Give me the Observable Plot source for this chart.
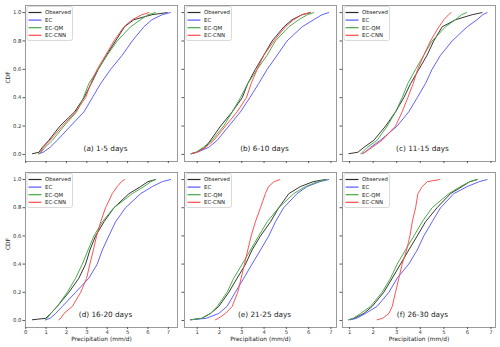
<!DOCTYPE html>
<html>
<head>
<meta charset="utf-8">
<script src="https://cdn.jsdelivr.net/npm/d3@7"></script>
<script src="https://cdn.jsdelivr.net/npm/@observablehq/plot@0.6"></script>
<style>
  html, body { margin: 0; padding: 0; background: white; }
  #chart { position: relative; width: 500px; height: 347px; background: white; font-family: "DejaVu Sans", sans-serif; }
  #chart > div { position: absolute; }
</style>
</head>
<body>
<div id="chart"></div>
<script>
const levels = [0.005, 0.015, 0.05, 0.1, 0.2, 0.3, 0.4, 0.5, 0.6, 0.7, 0.8, 0.9, 0.95, 0.985, 1.0];
const panelLabels = ["(a) 1-5 days", "(b) 6-10 days", "(c) 11-15 days", "(d) 16-20 days", "(e) 21-25 days", "(f) 26-30 days"];
const seriesNames = ["Observed", "EC", "EC-QM", "EC-CNN"];
const seriesColors = ["#2b2b2b", "#5858ff", "#45a845", "#ff4a4a"];

const observed = [
  [0.33, 0.65, 0.82, 1.14, 1.68, 2.40, 2.86, 3.22, 3.56, 3.97, 4.41, 4.85, 5.31, 6.2, 6.94],
  [0.73, 0.95, 1.37, 1.6, 2.05, 2.57, 3.02, 3.27, 3.61, 3.99, 4.36, 4.89, 5.26, 5.7, 6.08],
  [0.97, 1.35, 1.61, 2.03, 2.53, 2.95, 3.30, 3.59, 3.94, 4.29, 4.57, 4.93, 5.5, 6.2, 6.62],
  [0.33, 0.98, 1.23, 1.55, 2.12, 2.61, 2.94, 3.15, 3.43, 3.84, 4.33, 5.07, 5.64, 6.0, 6.37],
  [0.7, 1.2, 1.6, 1.97, 2.42, 2.79, 3.17, 3.46, 3.84, 4.29, 4.66, 5.11, 5.63, 6.2, 6.75],
  [0.97, 1.2, 1.61, 1.96, 2.45, 2.81, 3.16, 3.51, 3.87, 4.22, 4.71, 5.28, 5.77, 6.1, 6.41]
];
const ec = [
  [0.65, 0.85, 1.2, 1.55, 2.2, 2.86, 3.27, 3.68, 4.17, 4.74, 5.23, 5.8, 6.2, 6.7, 7.1],
  [0.73, 1.0, 1.52, 1.9, 2.42, 2.94, 3.36, 3.76, 4.14, 4.59, 5.03, 5.71, 6.23, 6.6, 6.9],
  [1.54, 1.65, 1.89, 2.31, 3.02, 3.51, 3.87, 4.22, 4.5, 4.86, 5.35, 5.99, 6.41, 6.65, 6.83],
  [0.98, 1.2, 1.47, 1.8, 2.45, 3.1, 3.51, 3.76, 4.08, 4.41, 4.9, 5.64, 6.21, 6.7, 7.11],
  [0.7, 1.4, 1.97, 2.34, 2.71, 3.09, 3.46, 3.84, 4.21, 4.51, 4.88, 5.48, 5.93, 6.5, 6.9],
  [1.04, 1.3, 1.68, 2.17, 2.67, 3.02, 3.51, 3.87, 4.15, 4.5, 4.86, 5.42, 5.99, 6.5, 6.83]
];
const ecQM = [
  [0.65, 0.75, 0.95, 1.31, 1.88, 2.5, 2.83, 3.1, 3.55, 4.0, 4.49, 5.15, 5.64, 6.0, 6.37],
  [0.73, 0.95, 1.27, 1.67, 2.19, 2.57, 2.94, 3.27, 3.69, 4.14, 4.51, 5.11, 5.56, 5.95, 6.23],
  [1.47, 1.55, 1.75, 2.17, 2.6, 2.95, 3.23, 3.47, 3.8, 4.15, 4.5, 5.07, 5.49, 5.75, 5.96],
  [0.98, 1.05, 1.23, 1.55, 2.04, 2.45, 2.78, 3.06, 3.35, 3.76, 4.33, 5.23, 5.8, 6.15, 6.37],
  [0.75, 1.2, 1.6, 1.9, 2.34, 2.64, 3.02, 3.39, 3.76, 4.14, 4.66, 5.33, 5.86, 6.4, 6.83],
  [0.97, 1.15, 1.47, 1.89, 2.38, 2.74, 3.02, 3.37, 3.73, 4.08, 4.5, 5.21, 5.7, 6.1, 6.41]
];
const ecCNN = [
  [0.65, 0.72, 0.87, 1.19, 1.8, 2.45, 2.94, 3.19, 3.51, 3.92, 4.33, 4.82, 5.23, 5.7, 6.05],
  [0.73, 1.0, 1.37, 1.75, 2.27, 2.79, 3.21, 3.42, 3.69, 3.99, 4.44, 4.96, 5.33, 5.7, 6.08],
  [1.54, 1.65, 1.96, 2.38, 2.95, 3.23, 3.47, 3.7, 3.89, 4.15, 4.43, 4.79, 5.0, 5.2, 5.31],
  [1.63, 1.72, 1.88, 2.29, 2.7, 2.99, 3.15, 3.32, 3.48, 3.68, 3.92, 4.25, 4.49, 4.7, 4.85],
  [1.82, 1.95, 2.27, 2.57, 2.82, 2.97, 3.12, 3.27, 3.42, 3.61, 3.84, 4.06, 4.2, 4.45, 4.71],
  [2.17, 2.4, 2.67, 2.81, 2.95, 3.09, 3.23, 3.42, 3.56, 3.66, 3.8, 3.9, 4.08, 4.3, 4.83]
];

const yTicks = [0, 0.2, 0.4, 0.6, 0.8, 1.0];
const xTicksByColumn = [[0, 1, 2, 3, 4, 5, 6, 7], [1, 2, 3, 4, 5, 6, 7], [1, 2, 3, 4, 5, 6, 7]];
const xDomainByColumn = [[-0.01, 7.45], [0.43, 7.25], [0.7, 7.19]];
const xLabel = "Precipitation (mm/d)";
const yLabel = "CDF";

// layout (pixels)
const colLeft = [25, 184, 342], colWidth = [152, 152, 153];
const rowTop = [5, 172], rowHeight = [156, 155];
const mL = 25, mR = 4, mT = 5, mB = 20;

const allSeries = [observed, ec, ecQM, ecCNN];
const chart = document.getElementById("chart");

for (let p = 0; p < 6; p++) {
  const row = Math.floor(p / 3), col = p % 3;
  const data = [];
  seriesNames.forEach((name, s) => {
    allSeries[s][p].forEach((v, i) => data.push({series: name, value: v, level: levels[i]}));
  });
  const bottomRow = row === 1, leftCol = col === 0;
  const marks = [
    Plot.frame({stroke: "#9a9a9a", strokeWidth: 1}),
    Plot.axisX(xTicksByColumn[col], {
      tickSize: 2, tickPadding: 0.5, stroke: "#555", fill: "#333", label: null, fontSize: 5.3,
      tickFormat: bottomRow ? (d => String(d)) : (() => "")
    }),
    Plot.axisY(yTicks, {
      tickSize: 2.5, tickPadding: 1.5, stroke: "#555", fill: "#333", label: null, fontSize: 5.3,
      tickFormat: leftCol ? (d => d.toFixed(1)) : (() => "")
    }),
    Plot.line(data, {x: "value", y: "level", z: "series", stroke: "series", strokeWidth: 1, strokeOpacity: 0.95}),
    Plot.text([panelLabels[p]], {frameAnchor: "bottom-left", dx: 80, dy: -11, textAnchor: "middle", fontSize: 7.3, fill: "#222", text: d => d})
  ];
  if (leftCol) marks.push(Plot.text([yLabel], {frameAnchor: "left", dx: -17, rotate: -90, fontSize: 5.9, fill: "#222", text: d => d}));
  if (bottomRow) marks.push(Plot.text([xLabel], {frameAnchor: "bottom", dy: 13, fontSize: 5.9, fill: "#222", text: d => d}));

  const plot = Plot.plot({
    width: mL + colWidth[col] + mR,
    height: mT + rowHeight[row] + mB,
    marginLeft: mL, marginRight: mR, marginTop: mT, marginBottom: mB,
    x: {domain: xDomainByColumn[col]},
    y: {domain: [-0.05, 1.05]},
    color: {domain: seriesNames, range: seriesColors},
    style: {background: "none", overflow: "visible", fontFamily: "DejaVu Sans, sans-serif", fontSize: "5.3px"},
    marks
  });

  // legend (upper left, matplotlib style)
  const svg = d3.select(plot);
  const g = svg.append("g").attr("transform", `translate(${mL},${mT})`)
    .attr("font-family", "DejaVu Sans, sans-serif").attr("text-anchor", "start");
  g.append("rect").attr("x", 2).attr("y", 1.5).attr("width", 45.5).attr("height", 34)
    .attr("rx", 2).attr("fill", "white").attr("fill-opacity", 0.8).attr("stroke", "#d0d0d0").attr("stroke-width", 0.8);
  seriesNames.forEach((name, s) => {
    const yy = 7.5 + s * 7.6;
    g.append("line").attr("x1", 3.5).attr("x2", 16.5).attr("y1", yy).attr("y2", yy)
      .attr("stroke", seriesColors[s]).attr("stroke-width", 1.2);
    g.append("text").attr("x", 20).attr("y", yy).attr("dy", "0.35em").attr("text-anchor", "start")
      .attr("font-size", 5.4).attr("fill", "#222").text(name);
  });

  const wrap = document.createElement("div");
  wrap.style.left = (colLeft[col] - mL) + "px";
  wrap.style.top = (rowTop[row] - mT) + "px";
  wrap.appendChild(plot);
  chart.appendChild(wrap);
}
</script>
</body>
</html>
